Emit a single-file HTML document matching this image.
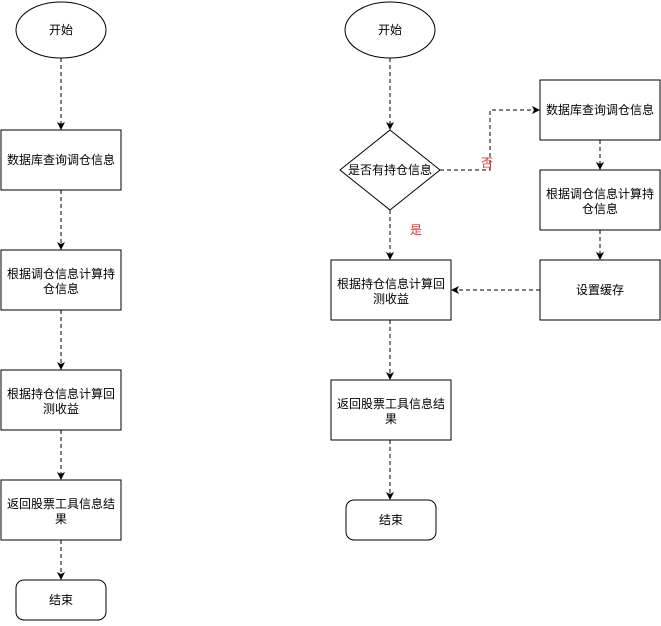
<!DOCTYPE html>
<html><head><meta charset="utf-8"><style>body{margin:0;background:#fff}</style></head><body>
<svg width="661" height="621" xmlns="http://www.w3.org/2000/svg" font-family="Liberation Sans, Noto Sans CJK SC, sans-serif" font-size="12">
<defs><marker id="a" markerWidth="8" markerHeight="8" refX="7" refY="4" orient="auto" markerUnits="userSpaceOnUse"><path d="M0,0 L8,4 L0,8 L2,4 Z" fill="#000"/></marker></defs>
<g fill="#fff" stroke="#000" stroke-width="1">
<ellipse cx="61" cy="30" rx="45" ry="28"/>
<rect x="1" y="130" width="120" height="60"/>
<rect x="1" y="250" width="120" height="60"/>
<rect x="1" y="370" width="120" height="60"/>
<rect x="1" y="480" width="120" height="60"/>
<rect x="16" y="580" width="90" height="40" rx="8"/>
<ellipse cx="390" cy="30" rx="45" ry="28"/>
<polygon points="390,130 440,170 390,210 340,170"/>
<rect x="540" y="80" width="120" height="60"/>
<rect x="540" y="170" width="120" height="60"/>
<rect x="540" y="260" width="120" height="60"/>
<rect x="331" y="260" width="120" height="60"/>
<rect x="331" y="380" width="120" height="60"/>
<rect x="346" y="500" width="90" height="40" rx="8"/>
</g>
<g stroke="#000" stroke-dasharray="4,3" fill="none" marker-end="url(#a)">
<path d="M61 58V129"/><path d="M61 190V249"/><path d="M61 310V369"/><path d="M61 430V479"/><path d="M61 540V579"/>
<path d="M390 58V129"/><path d="M390 210V259"/><path d="M390 320V379"/><path d="M390 440V499"/>
<path d="M440 170H490V110H539"/>
<path d="M600 140V169"/><path d="M600 230V259"/><path d="M540 290H452"/>
</g>
<g text-anchor="middle" fill="#000">
<text x="61" y="34">开始</text>
<text x="61" y="164">数据库查询调仓信息</text>
<text x="61" y="278">根据调仓信息计算持</text><text x="61" y="293">仓信息</text>
<text x="61" y="398">根据持仓信息计算回</text><text x="61" y="413">测收益</text>
<text x="61" y="508">返回股票工具信息结</text><text x="61" y="523">果</text>
<text x="61" y="604">结束</text>
<text x="390" y="34">开始</text>
<text x="390" y="174">是否有持仓信息</text>
<text x="600" y="114">数据库查询调仓信息</text>
<text x="600" y="198">根据调仓信息计算持</text><text x="600" y="213">仓信息</text>
<text x="600" y="294">设置缓存</text>
<text x="391" y="288">根据持仓信息计算回</text><text x="391" y="303">测收益</text>
<text x="391" y="408">返回股票工具信息结</text><text x="391" y="423">果</text>
<text x="391" y="524">结束</text>
<text x="487" y="167" fill="#d33">否</text>
<text x="416" y="234" fill="#d33">是</text>
</g>
</svg>
</body></html>
